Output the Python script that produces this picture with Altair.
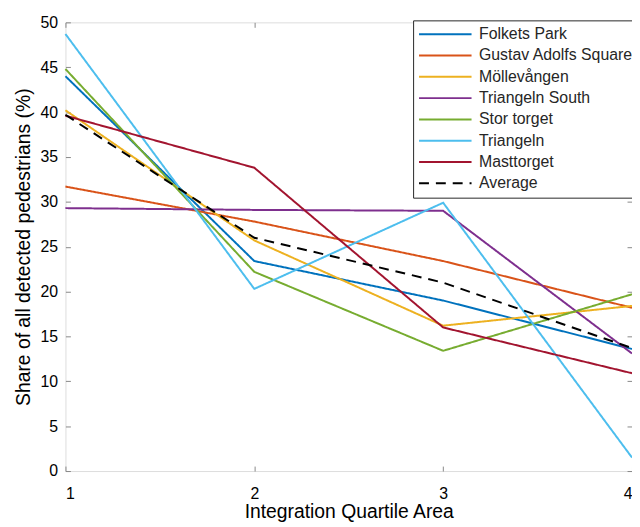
import altair as alt
import pandas as pd

areas = [1, 2, 3, 4]
series_names = ["Folkets Park", "Gustav Adolfs Square", "Möllevången", "Triangeln South",
                "Stor torget", "Triangeln", "Masttorget", "Average"]
folkets_park = [44.0, 23.4, 19.0, 13.6]
gustav_adolfs = [31.7, 27.8, 23.4, 18.2]
mollevangen = [40.2, 25.7, 16.2, 18.4]
triangeln_south = [29.3, 29.1, 29.0, 13.1]
stor_torget = [44.8, 22.2, 13.4, 19.7]
triangeln = [48.7, 20.3, 29.9, 1.5]
masttorget = [39.6, 33.8, 16.0, 10.9]
average = [39.7, 26.0, 21.0, 13.7]
series_values = [folkets_park, gustav_adolfs, mollevangen, triangeln_south,
                 stor_torget, triangeln, masttorget, average]
colors = ["#0072BD", "#D95319", "#EDB120", "#7E2F8E", "#77AC30", "#4DBEEE", "#A2142F", "#000000"]
dashes = [[1, 0]] * 7 + [[10, 7]]
widths = [2] * 7 + [3]

rows = []
for name, vals in zip(series_names, series_values):
    for a, v in zip(areas, vals):
        rows.append({"area": a, "share": v, "series": name})
df = pd.DataFrame(rows)

FONT = "Liberation Sans"
TXT = "#262626"

xscale = alt.Scale(domain=[1, 4], nice=False, zero=False)
yscale = alt.Scale(domain=[0, 50], nice=False)


def make_legend():
    return alt.Legend(title=None, orient="none", legendX=351, legendY=-2,
                      symbolType="M-3.786,0H3.786", symbolSize=196, symbolStrokeWidth=2,
                      symbolOffset=18.5, labelOffset=26,
                      labelFontSize=16, labelFont=FONT, labelColor=TXT,
                      strokeColor=TXT, fillColor="white", padding=6,
                      rowPadding=5.5, labelLimit=300)


lines = alt.Chart(df).mark_line().encode(
    x=alt.X("area:Q", scale=xscale,
            axis=alt.Axis(values=areas, format="d", title="Integration Quartile Area",
                          offset=-5, tickSize=5, domain=False, grid=False,
                          labelPadding=15, titlePadding=1, labelFontSize=16,
                          titleFontSize=19.5, titleFontWeight="normal")),
    y=alt.Y("share:Q", scale=yscale,
            axis=alt.Axis(values=list(range(0, 55, 5)), title="Share of all detected pedestrians (%)",
                          offset=-5, tickSize=5, domain=False, grid=False,
                          labelPadding=8, titlePadding=6, labelFontSize=16,
                          titleFontSize=19.5, titleFontWeight="normal")),
    color=alt.Color("series:N", scale=alt.Scale(domain=series_names, range=colors),
                    legend=make_legend()),
    strokeDash=alt.StrokeDash("series:N", scale=alt.Scale(domain=series_names, range=dashes),
                              legend=make_legend()),
    strokeWidth=alt.StrokeWidth("series:N", scale=alt.Scale(domain=series_names, range=widths),
                                legend=make_legend()),
)

frame = alt.Chart(df).mark_point(opacity=0).encode(
    x=alt.X("area:Q", scale=xscale,
            axis=alt.Axis(orient="top", values=areas, labels=False, title=None,
                          offset=-5, tickSize=5, domain=False, grid=False)),
    y=alt.Y("share:Q", scale=yscale,
            axis=alt.Axis(orient="right", values=list(range(0, 55, 5)), labels=False, title=None,
                          offset=-5, tickSize=5, domain=False, grid=False)),
)

chart = alt.layer(lines, frame).resolve_axis(x="independent", y="independent").properties(
    width=572, height=453,
    autosize=alt.AutoSizeParams(type="none"),
    padding={"left": 58, "top": 12, "right": 0, "bottom": 54},
).configure_view(stroke=TXT, strokeWidth=1).configure_axis(
    labelFont=FONT, titleFont=FONT, labelColor=TXT, titleColor=TXT, tickColor=TXT, tickWidth=1
).configure(background="white")

chart.save("out.html", embed_options={"renderer": "svg", "actions": False})
